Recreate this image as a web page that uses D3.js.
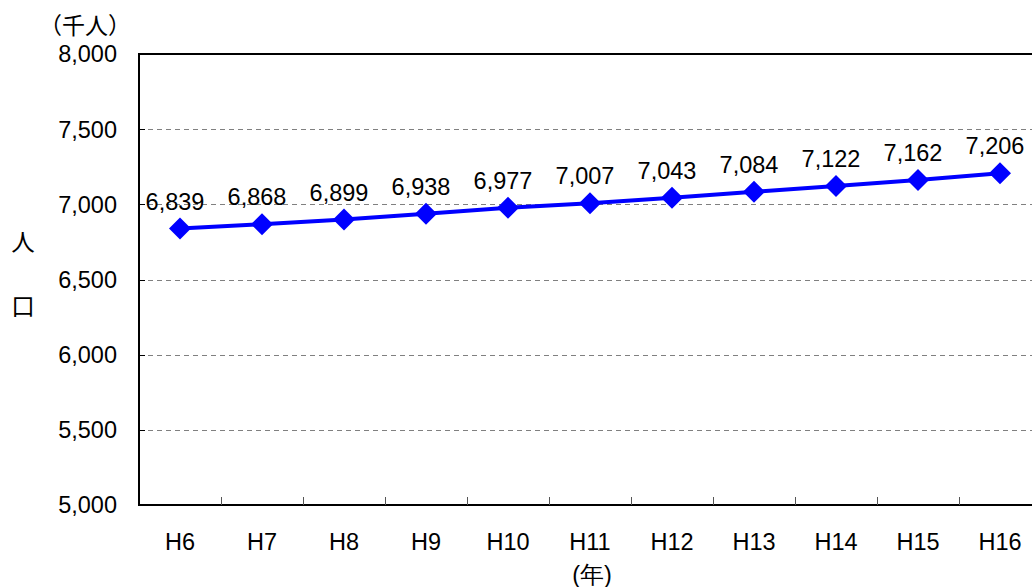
<!DOCTYPE html>
<meta charset="utf-8">
<style>
body { margin: 0; background: #fff; }
svg { display: block; font-family: Arial, "Liberation Sans", sans-serif; }
.grid line { stroke: #808080; stroke-width: 1; stroke-dasharray: 5,4; }
.lbl { font-size: 23.5px; fill: #000; }
</style>
<body>
<script src="https://cdn.jsdelivr.net/npm/d3@7"></script>
<script>
// years (Heisei) and population in thousands
var years = ["H6","H7","H8","H9","H10","H11","H12","H13","H14","H15","H16"];
var population = [6839, 6868, 6899, 6938, 6977, 7007, 7043, 7084, 7122, 7162, 7206];
var yTicks = [5000, 5500, 6000, 6500, 7000, 7500, 8000];

var W = 1032, H = 587;
var margin = {top: 54, left: 139, bottom: 82};
var plotW = 902, plotH = H - margin.top - margin.bottom;

var svg = d3.select("body").append("svg")
    .attr("width", W).attr("height", H);

var g = svg.append("g")
    .attr("transform", "translate(" + margin.left + "," + margin.top + ")");

var x = d3.scaleBand().domain(years).range([0, plotW]);
var y = d3.scaleLinear().domain([5000, 8000]).range([plotH, 0]);

// dashed grid lines
g.append("g").attr("class", "grid")
  .selectAll("line")
  .data(yTicks.filter(function(d) { return d > 5000 && d < 8000; }))
  .enter().append("line")
    .attr("x1", 0).attr("x2", plotW)
    .attr("y1", function(d) { return Math.round(y(d)) + 0.5; })
    .attr("y2", function(d) { return Math.round(y(d)) + 0.5; });

// frame
g.append("rect")
    .attr("x", 0).attr("y", 0)
    .attr("width", plotW).attr("height", plotH)
    .attr("fill", "none").attr("stroke", "#000").attr("stroke-width", 2);

// y ticks (inward) and labels
yTicks.forEach(function(d) {
  g.append("line")
      .attr("x1", 0).attr("x2", 6)
      .attr("y1", Math.round(y(d)) + 0.5).attr("y2", Math.round(y(d)) + 0.5)
      .attr("stroke", "#000");
  g.append("text").attr("class", "lbl")
      .attr("x", -22).attr("y", y(d))
      .attr("dy", "0.36em")
      .attr("text-anchor", "end")
      .text(d3.format(",")(d));
});

// x ticks between categories (inward)
years.slice(1).forEach(function(d) {
  var xx = Math.round(x(d)) + 0.5;
  g.append("line")
      .attr("x1", xx).attr("x2", xx)
      .attr("y1", plotH).attr("y2", plotH - 8)
      .attr("stroke", "#555");
});

// x labels
years.forEach(function(d) {
  g.append("text").attr("class", "lbl")
      .attr("x", x(d) + x.bandwidth() / 2)
      .attr("y", plotH + 37)
      .attr("dy", "0.36em")
      .attr("text-anchor", "middle")
      .text(d);
});

// line
var line = d3.line()
    .x(function(d, i) { return x(years[i]) + x.bandwidth() / 2; })
    .y(function(d) { return y(d); });

g.append("path")
    .datum(population)
    .attr("d", line)
    .attr("fill", "none")
    .attr("stroke", "#0000ff")
    .attr("stroke-width", 4);

// diamond markers
g.selectAll(".pt").data(population).enter().append("path")
    .attr("class", "pt")
    .attr("transform", function(d, i) {
      return "translate(" + (x(years[i]) + x.bandwidth() / 2) + "," + y(d) + ")";
    })
    .attr("d", "M0,-11L11,0L0,11L-11,0Z")
    .attr("fill", "#0000ff");

// value labels
g.selectAll(".val").data(population).enter().append("text")
    .attr("class", "lbl val")
    .attr("x", function(d, i) { return x(years[i]) + x.bandwidth() / 2 - 5; })
    .attr("y", function(d) { return y(d) - 19; })
    .attr("text-anchor", "middle")
    .text(function(d) { return d3.format(",")(d); });

// axis titles
svg.append("text").attr("class", "lbl")
    .attr("x", 131).attr("y", 26).attr("dy", "0.36em")
    .attr("text-anchor", "end")
    .style("font-family", "'Noto Sans CJK JP', sans-serif")
    .style("font-size", "23px")
    .text("（千人）");

svg.append("text").attr("class", "lbl")
    .attr("x", 23).attr("y", 243).attr("dy", "0.36em")
    .attr("text-anchor", "middle")
    .style("font-family", "'Noto Sans CJK JP', sans-serif")
    .text("人");

svg.append("text").attr("class", "lbl")
    .attr("x", 23).attr("y", 307).attr("dy", "0.36em")
    .attr("text-anchor", "middle")
    .style("font-family", "'Noto Sans CJK JP', sans-serif")
    .text("口");

svg.append("text").attr("class", "lbl")
    .attr("x", 592).attr("y", 575).attr("dy", "0.36em")
    .attr("text-anchor", "middle")
    .text("(年)");
</script>
</body>
